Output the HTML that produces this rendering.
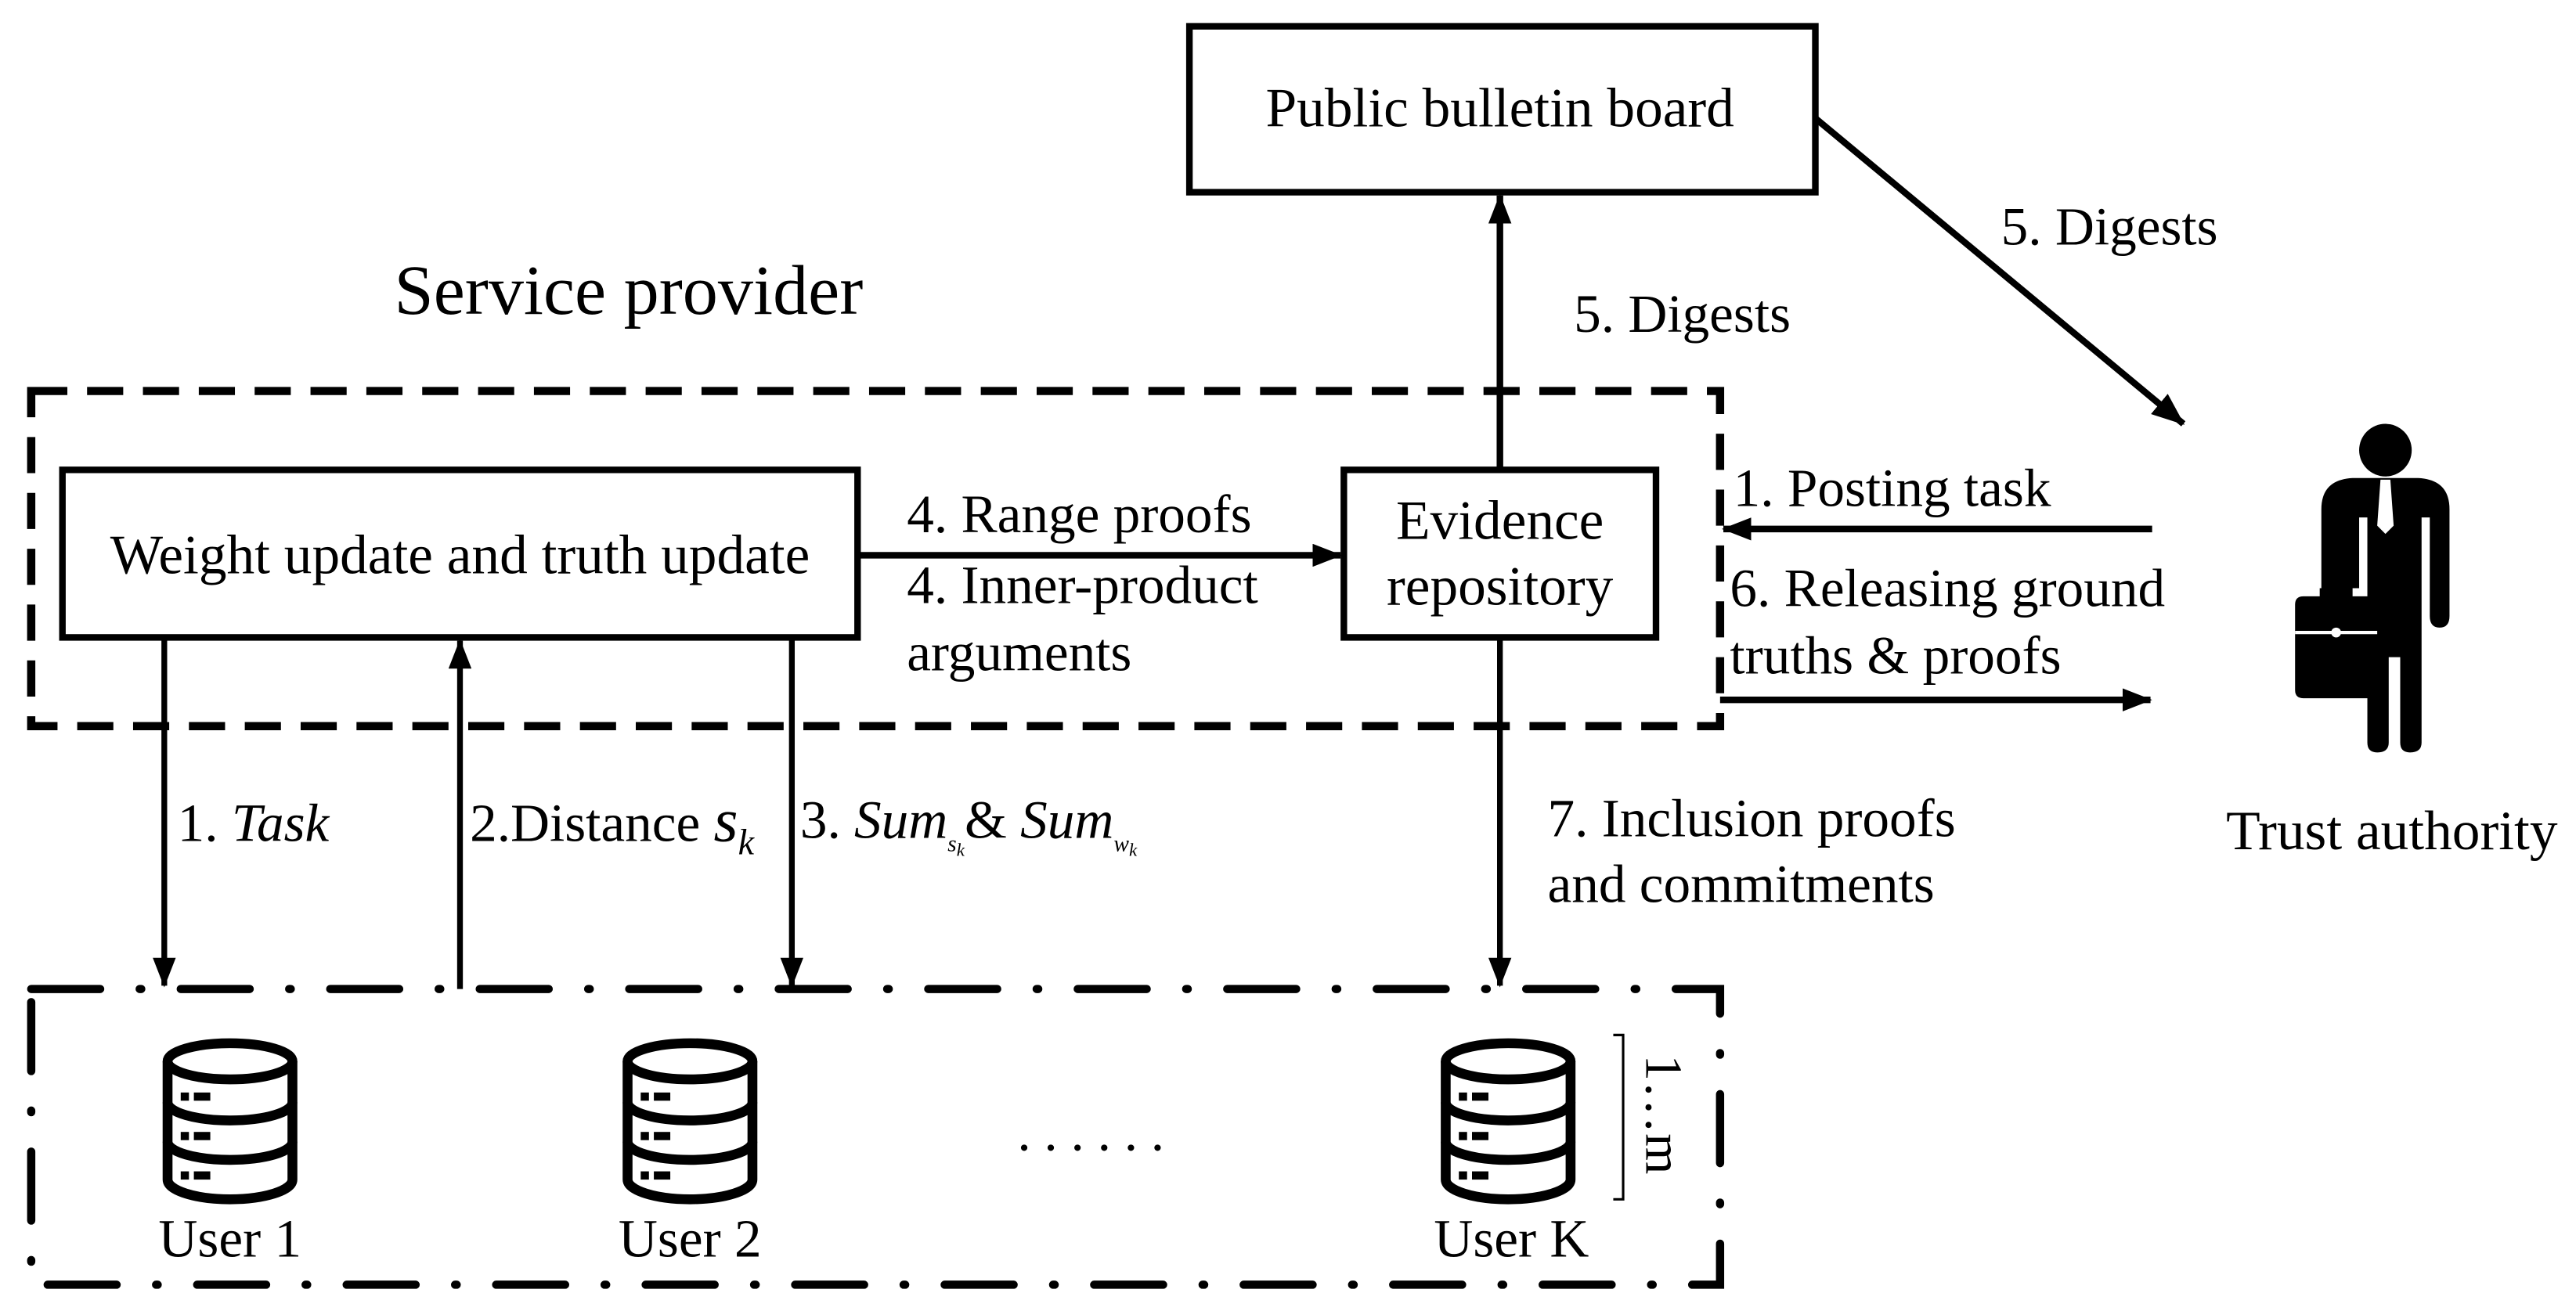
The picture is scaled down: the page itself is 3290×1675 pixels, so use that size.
<!DOCTYPE html>
<html><head><meta charset="utf-8"><style>
html,body{margin:0;padding:0;background:#fff}
svg{display:block}
text{font-family:"Liberation Serif",serif;fill:#000}
</style></head><body>
<svg width="3290" height="1675" viewBox="0 0 1568 798" preserveAspectRatio="none" xmlns="http://www.w3.org/2000/svg">
<defs>
<marker id="ah" markerWidth="18" markerHeight="14" refX="17" refY="7" orient="auto" markerUnits="userSpaceOnUse"><path d="M0,0 L18,7 L0,14 Z" fill="#000"/></marker>
<marker id="ahv" markerWidth="20" markerHeight="16" refX="19" refY="8" orient="auto" markerUnits="userSpaceOnUse"><path d="M0,0 L20,8 L0,16 Z" fill="#000"/></marker>
<g id="db" fill="none" stroke="#000" stroke-width="6">
<path d="M-38,13 L-38,85 A38,12 0 0 0 38,85 L38,13"/>
<ellipse cx="0" cy="13" rx="38" ry="11"/>
<path d="M-38,38 A38,11 0 0 0 38,38"/>
<path d="M-38,62 A38,11 0 0 0 38,62"/>
<g fill="#000" stroke="none"><rect x="-30" y="32" width="5" height="5"/><rect x="-22" y="32" width="10" height="5"/><rect x="-30" y="56" width="5" height="5"/><rect x="-22" y="56" width="10" height="5"/><rect x="-30" y="80" width="5" height="5"/><rect x="-22" y="80" width="10" height="5"/></g>
</g>
</defs>
<rect x="724" y="16" width="381" height="101" fill="none" stroke="#000" stroke-width="4"/>
<text x="913" y="77" font-size="34" text-anchor="middle">Public bulletin board</text>
<text x="240" y="191" font-size="43">Service provider</text>
<rect x="19" y="238" width="1028" height="204" fill="none" stroke="#000" stroke-width="5" stroke-dasharray="22,12"/>
<rect x="38" y="286" width="484" height="102" fill="#fff" stroke="#000" stroke-width="4"/>
<text x="280" y="349" font-size="34" text-anchor="middle">Weight update and truth update</text>
<rect x="818" y="286" width="190" height="102" fill="#fff" stroke="#000" stroke-width="4"/>
<text x="913" y="328" font-size="34" text-anchor="middle">Evidence</text>
<text x="913" y="368" font-size="34" text-anchor="middle">repository</text>
<line x1="522" y1="338" x2="816" y2="338" stroke="#000" stroke-width="4" marker-end="url(#ah)"/>
<text x="552" y="324" font-size="33">4. Range proofs</text>
<text x="552" y="367" font-size="33">4. Inner-product</text>
<text x="552" y="408" font-size="33">arguments</text>
<line x1="913" y1="286" x2="913" y2="119" stroke="#000" stroke-width="4" marker-end="url(#ah)"/>
<text x="958" y="202" font-size="33">5. Digests</text>
<line x1="1105" y1="72" x2="1329" y2="258" stroke="#000" stroke-width="4" marker-end="url(#ahv)"/>
<text x="1218" y="149" font-size="33">5. Digests</text>
<text x="1055" y="308" font-size="33">1. Posting task</text>
<line x1="1310" y1="322" x2="1049" y2="322" stroke="#000" stroke-width="4" marker-end="url(#ah)"/>
<text x="1053" y="369" font-size="33">6. Releasing ground</text>
<text x="1053" y="410" font-size="33">truths &amp; proofs</text>
<line x1="1047" y1="426" x2="1309" y2="426" stroke="#000" stroke-width="4" marker-end="url(#ah)"/>
<g fill="#000">
<circle cx="1452" cy="274" r="16"/>
<path d="M1413,310 Q1413,292 1432,291 L1472,291 Q1491,292 1491,310 L1491,375 Q1491,382 1485,382 Q1479,382 1479,375 L1479,315 L1474,315 L1474,452 Q1474,458 1467,458 Q1461,458 1461,452 L1461,400 L1454,400 L1454,452 Q1454,458 1447,458 Q1441,458 1441,452 L1441,315 L1436,315 L1436,358 L1413,358 Z"/>
<path d="M1397,368 Q1397,363 1402,363 L1412,363 L1412,358 L1432,358 L1432,363 L1442,363 Q1447,363 1447,368 L1447,420 Q1447,425 1442,425 L1402,425 Q1397,425 1397,420 Z"/>
</g>
<path d="M1449,292 L1455,292 L1457,320 L1452,325 L1447,320 Z" fill="#fff"/>
<line x1="1397" y1="385" x2="1447" y2="385" stroke="#fff" stroke-width="2"/>
<circle cx="1422" cy="385" r="3" fill="#fff"/>
<text x="1355" y="517" font-size="34">Trust authority</text>
<line x1="100" y1="388" x2="100" y2="600" stroke="#000" stroke-width="3.5" marker-end="url(#ah)"/>
<line x1="280" y1="602" x2="280" y2="390" stroke="#000" stroke-width="3.5" marker-end="url(#ah)"/>
<line x1="482" y1="388" x2="482" y2="600" stroke="#000" stroke-width="3.5" marker-end="url(#ah)"/>
<line x1="913" y1="388" x2="913" y2="600" stroke="#000" stroke-width="3.5" marker-end="url(#ah)"/>
<text x="108" y="512" font-size="33">1. <tspan font-style="italic">Task</tspan></text>
<text x="286" y="512" font-size="33">2.Distance <tspan font-style="italic" font-size="38">s</tspan><tspan font-style="italic" font-size="22" dy="8">k</tspan></text>
<text x="487" y="510" font-size="33">3. <tspan font-style="italic">Sum</tspan><tspan font-style="italic" font-size="14" dy="8">s</tspan><tspan font-style="italic" font-size="11" dy="3">k</tspan><tspan dy="-11">&amp; </tspan><tspan font-style="italic">Sum</tspan><tspan font-style="italic" font-size="14" dy="8">w</tspan><tspan font-style="italic" font-size="11" dy="3">k</tspan></text>
<text x="942" y="509" font-size="33">7. Inclusion proofs</text>
<text x="942" y="549" font-size="33">and commitments</text>
<rect x="19" y="602" width="1028" height="180" fill="none" stroke="#000" stroke-width="5" stroke-dasharray="42,24,1,24" stroke-linecap="round"/>
<use href="#db" x="140" y="633"/>
<use href="#db" x="420" y="633"/>
<use href="#db" x="918" y="633"/>
<text x="140" y="765" font-size="33" text-anchor="middle">User 1</text>
<text x="420" y="765" font-size="33" text-anchor="middle">User 2</text>
<text x="920" y="765" font-size="33" text-anchor="middle">User K</text>
<text x="668" y="700" font-size="33" text-anchor="middle" letter-spacing="8">......</text>
<path d="M982,630 L988,630 L988,730 L982,730" fill="none" stroke="#000" stroke-width="1.5"/>
<text x="0" y="0" font-size="32" transform="translate(1002,642) rotate(90)">1…m</text>
</svg>
</body></html>
